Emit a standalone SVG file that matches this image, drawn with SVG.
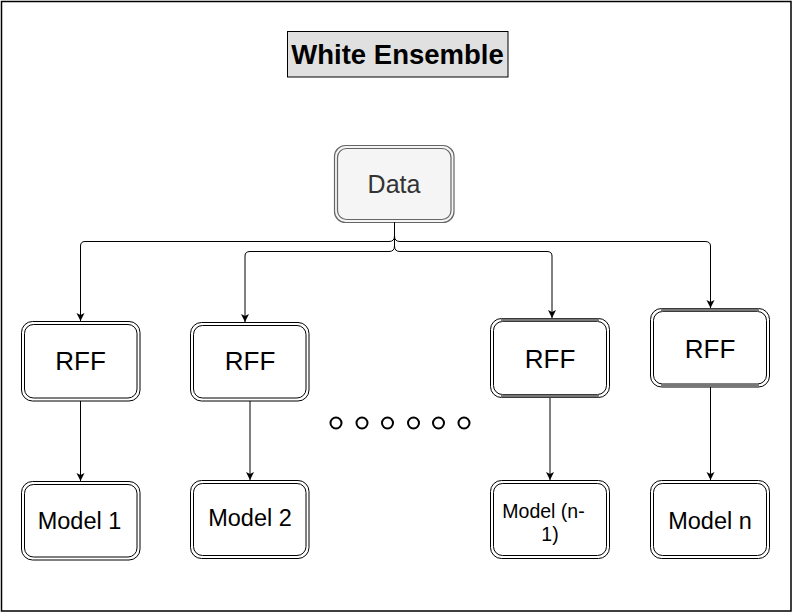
<svg xmlns="http://www.w3.org/2000/svg" width="793" height="613" viewBox="0 0 793 613">
<defs>
<marker id="arr" markerUnits="userSpaceOnUse" markerWidth="10" markerHeight="10" refX="8" refY="4" orient="auto">
<path d="M0,0 L8,4 L0,8 L2,4 z" fill="#000"/>
</marker>
<style>
.frame{fill:#fff;stroke:#000;stroke-width:1.5}
.title{fill:#e0e0e0;stroke:#000;stroke-width:1}
.o{fill:#fff;stroke:#000;stroke-width:1}
.i{fill:none;stroke:#000;stroke-width:1}
.od{fill:#f5f5f5;stroke:#666;stroke-width:1.2}
.id{fill:none;stroke:#666;stroke-width:1.2}
.band{stroke:#777;stroke-width:3}
.t{font-family:"Liberation Sans",Arial,sans-serif;text-anchor:middle;fill:#000}
.c{fill:none;stroke:#000;stroke-width:1}
.dot{fill:#fff;stroke:#000;stroke-width:2}
</style>
</defs>
<rect class="frame" x="1.5" y="1.5" width="789.5" height="609.5"/>
<g id="title">
<rect class="title" x="287.5" y="31.5" width="220.5" height="45.5"/>
<text class="t" x="397.5" y="64" font-size="27.5" font-weight="bold">White Ensemble</text>
</g>
<g id="data">
<rect class="od" x="334.5" y="145.5" width="119.5" height="77" rx="11"/>
<rect class="id" x="337.5" y="148.5" width="113.5" height="71" rx="9"/>
<text class="t" x="394" y="193" font-size="25" style="fill:#333">Data</text>
</g>
<g id="rff1">
<rect class="o" x="21.5" y="321.5" width="118.5" height="79.5" rx="11"/>
<rect class="i" x="24.5" y="324.5" width="112.5" height="73.5" rx="9"/>
<text class="t" x="80.5" y="370" font-size="26">RFF</text>
</g>
<g id="rff2">
<rect class="o" x="190.5" y="322.5" width="118.5" height="78.5" rx="11"/>
<rect class="i" x="193.5" y="325.5" width="112.5" height="72.5" rx="9"/>
<text class="t" x="250" y="370" font-size="26">RFF</text>
</g>
<g id="rff3">
<rect class="o" x="490.5" y="318.5" width="119" height="79" rx="11"/>
<rect class="i" x="493.5" y="321.5" width="113" height="73" rx="9"/>
<line class="band" x1="501" y1="320" x2="599" y2="320"/>
<line class="band" x1="501" y1="396" x2="599" y2="396"/>
<text class="t" x="550" y="368" font-size="26">RFF</text>
</g>
<g id="rff4">
<rect class="o" x="650.5" y="308.5" width="119" height="78.5" rx="11"/>
<rect class="i" x="653.5" y="311.5" width="113" height="72.5" rx="9"/>
<line class="band" x1="661" y1="310" x2="759" y2="310"/>
<line class="band" x1="661" y1="385.5" x2="759" y2="385.5"/>
<text class="t" x="710" y="358" font-size="26">RFF</text>
</g>
<g id="model1">
<rect class="o" x="21.5" y="481.5" width="118.5" height="78.5" rx="11"/>
<rect class="i" x="24.5" y="484.5" width="112.5" height="72.5" rx="9"/>
<text class="t" x="79.5" y="529" font-size="23.5">Model 1</text>
</g>
<g id="model2">
<rect class="o" x="190.5" y="480.5" width="118.5" height="78" rx="11"/>
<rect class="i" x="193.5" y="483.5" width="112.5" height="72" rx="9"/>
<text class="t" x="250" y="526" font-size="23.5">Model 2</text>
</g>
<g id="modeln1">
<rect class="o" x="490.5" y="480.5" width="119" height="78" rx="11"/>
<rect class="i" x="493.5" y="483.5" width="113" height="72" rx="9"/>
<text class="t" x="543.5" y="518" font-size="19.5">Model (n-</text>
<text class="t" x="550" y="541" font-size="19.5">1)</text>
</g>
<g id="modeln">
<rect class="o" x="650.5" y="480.5" width="119" height="78" rx="11"/>
<rect class="i" x="653.5" y="483.5" width="113" height="72" rx="9"/>
<text class="t" x="710" y="529" font-size="23.5">Model n</text>
</g>
<g id="dots">
<circle class="dot" cx="336" cy="423" r="5.5"/>
<circle class="dot" cx="362" cy="423" r="5.5"/>
<circle class="dot" cx="387.5" cy="423" r="5.5"/>
<circle class="dot" cx="413.5" cy="423" r="5.5"/>
<circle class="dot" cx="438.5" cy="423" r="5.5"/>
<circle class="dot" cx="464" cy="423" r="5.5"/>
</g>
<g id="connectors">
<path class="c" d="M394.5 222.5 V236 Q394.5 241.5 389 241.5 H85 Q80.5 241.5 80.5 246 V321" marker-end="url(#arr)"/>
<path class="c" d="M394.5 222.5 V246 Q394.5 251.5 389 251.5 H250 Q245 251.5 245 256 V322" marker-end="url(#arr)"/>
<path class="c" d="M394.5 222.5 V246 Q394.5 251.5 400 251.5 H547 Q552 251.5 552 256 V318" marker-end="url(#arr)"/>
<path class="c" d="M394.5 222.5 V236 Q394.5 241.5 400 241.5 H705 Q710.5 241.5 710.5 246 V308" marker-end="url(#arr)"/>
<path class="c" d="M80.5 401 V481" marker-end="url(#arr)"/>
<path class="c" d="M250 401 V480" marker-end="url(#arr)"/>
<path class="c" d="M550 398 V480" marker-end="url(#arr)"/>
<path class="c" d="M710.5 387 V480" marker-end="url(#arr)"/>
</g>
</svg>
